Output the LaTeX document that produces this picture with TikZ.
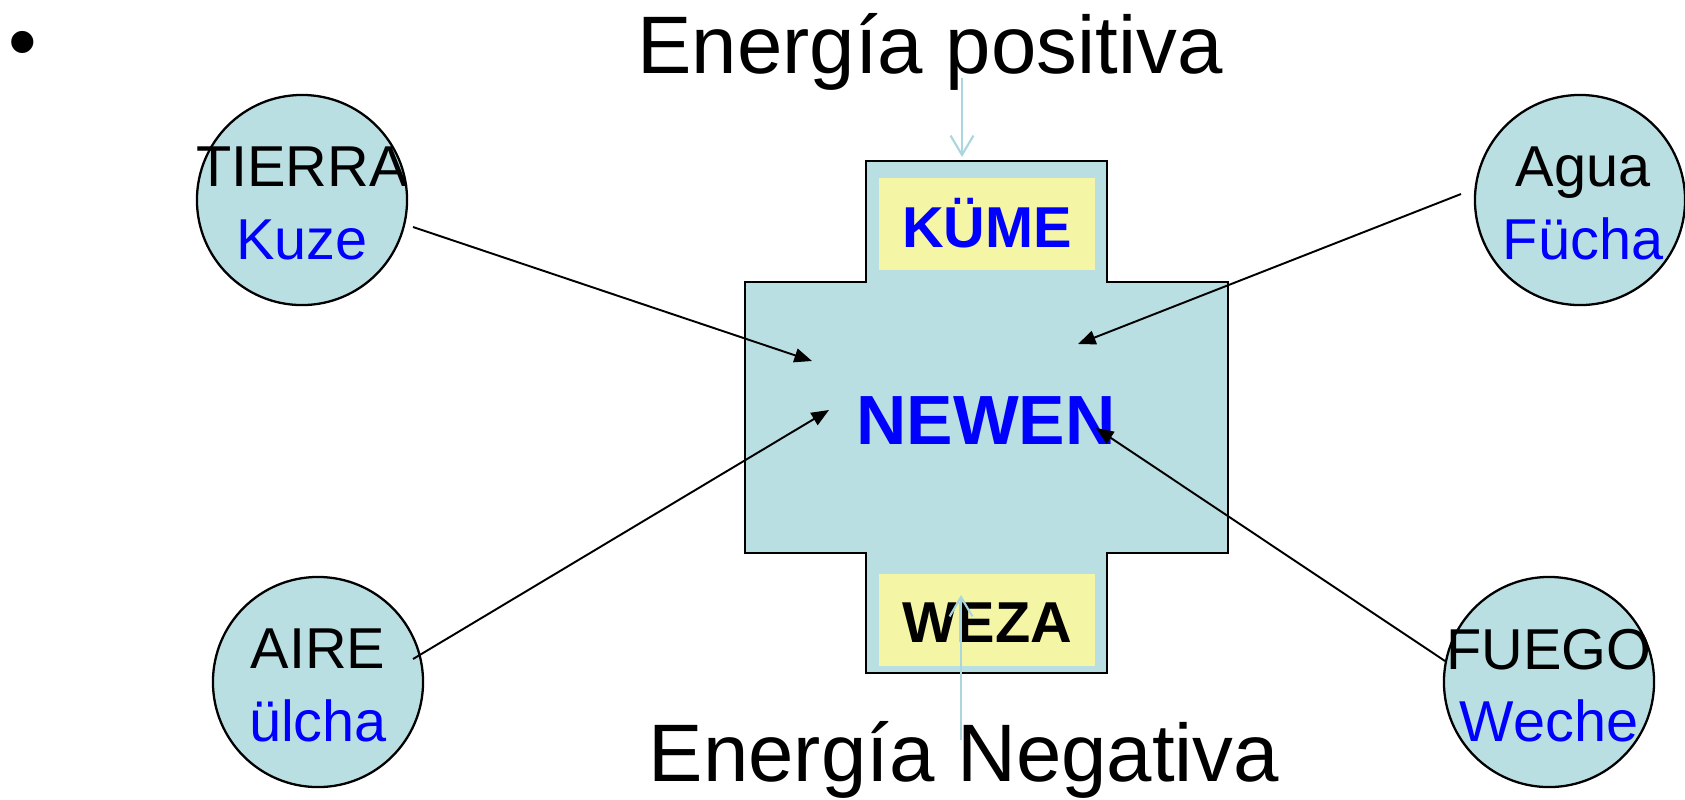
\documentclass[tikz,border=0pt]{standalone}
\usepackage{fontspec}
\setmainfont{Liberation Sans}
\usetikzlibrary{arrows.meta}

\definecolor{newenBlue}{RGB}{186,223,226}
\definecolor{armYellow}{RGB}{245,245,166}
\definecolor{nameBlue}{RGB}{0,0,255}
\definecolor{energyLine}{RGB}{170,215,222}

\begin{document}
\begin{tikzpicture}[x=0.01cm, y=-0.01cm,
    elementCircle/.style={circle, draw, line width=0.65pt, fill=newenBlue, minimum size=2.1cm, inner sep=0pt},
    elementText/.style={align=center, inner sep=0pt, font=\fontsize{16.4}{20.6}\selectfont},
    armBox/.style={fill=armYellow, minimum width=2.16cm, minimum height=0.92cm, inner sep=0pt},
    armText/.style={anchor=base, inner sep=0pt, font=\fontsize{16.4}{20}\selectfont\bfseries},
    bigText/.style={anchor=base, inner sep=0pt, font=\fontsize{23.2}{28}\selectfont},
    forceArrow/.style={-{Triangle[length=5pt, width=4pt]}, line width=0.55pt},
    energyArrow/.style={-{Straight Barb[length=5.5pt, width=6.5pt]}, line width=0.6pt, draw=energyLine}]
    \useasboundingbox (0,0) rectangle (1685,799);

    % Define the positions of the four elements
    \coordinate (tierraPos) at (302, 200);
    \coordinate (aguaPos) at (1580, 200);
    \coordinate (airePos) at (318, 682);
    \coordinate (fuegoPos) at (1549, 682);

    % Draw the cross
    \draw[line width=0.65pt, fill=newenBlue] (866,161) -- (1107,161) -- (1107,282) -- (1228,282)
        -- (1228,553) -- (1107,553) -- (1107,673) -- (866,673) -- (866,553) -- (745,553)
        -- (745,282) -- (866,282) -- cycle;
    \node[armBox] (kumeBox) at (987, 224) {};
    \node[armBox] (wezaBox) at (987, 620) {};
    \node[armText, text=nameBlue] (kume) at (987, 247) {KÜME};
    \node[armText] (weza) at (987, 642) {WEZA};
    \node[anchor=base, inner sep=0pt, text=nameBlue, font=\fontsize{19.8}{24}\selectfont\bfseries] (newen) at (986, 444) {NEWEN};

    % Draw the labels
    \node[bigText] (bullet) at (23, 69) {•};
    \node[bigText] (positiva) at (930, 73) {Energía positiva};
    \node[bigText] (negativa) at (964, 781) {Energía Negativa};

    % Draw the elements
    \node[elementCircle] (tierra) at (tierraPos) {};
    \node[elementCircle] (agua) at (aguaPos) {};
    \node[elementCircle] (aire) at (airePos) {};
    \node[elementCircle] (fuego) at (fuegoPos) {};
    \node[elementText] (tierraTxt) at ([yshift=-0.035cm]tierra.center) {TIERRA\\\textcolor{nameBlue}{Kuze}};
    \node[elementText] (aguaTxt) at ([xshift=0.03cm, yshift=-0.035cm]agua.center) {Agua\\\textcolor{nameBlue}{Fücha}};
    \node[elementText] (aireTxt) at ([yshift=-0.035cm]aire.center) {AIRE\\\textcolor{nameBlue}{ülcha}};
    \node[elementText] (fuegoTxt) at ([yshift=-0.035cm]fuego.center) {FUEGO\\\textcolor{nameBlue}{Weche}};

    % Arrow ends
    \coordinate (tierraOut) at (413, 227);
    \coordinate (tierraIn) at (812, 361);
    \coordinate (aguaOut) at (1461, 194);
    \coordinate (aguaIn) at (1078, 344);
    \coordinate (aireOut) at (413, 659);
    \coordinate (aireIn) at (829, 410);
    \coordinate (fuegoOut) at (1445, 661);
    \coordinate (fuegoIn) at (1096, 428);
    \coordinate (posStart) at (962, 78);
    \coordinate (posEnd) at (962, 157);
    \coordinate (negStart) at (961, 740);
    \coordinate (negEnd) at (961, 595);

    % Draw the arrows
    \draw[forceArrow] (tierraOut) -- (tierraIn);
    \draw[forceArrow] (aguaOut) -- (aguaIn);
    \draw[forceArrow] (aireOut) -- (aireIn);
    \draw[forceArrow] (fuegoOut) -- (fuegoIn);
    \draw[energyArrow] (posStart) -- (posEnd);
    \draw[energyArrow] (negStart) -- (negEnd);
\end{tikzpicture}
\end{document}
